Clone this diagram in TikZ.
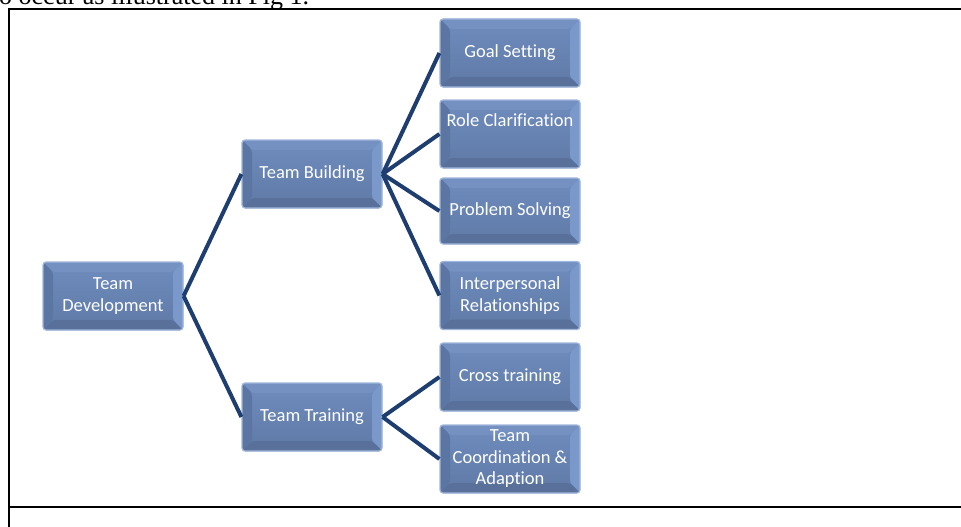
\documentclass[tikz,border=0pt]{standalone}
\usepackage{fontspec}
\newfontfamily\boxfontfam[Ligatures={NoCommon}]{Carlito}
\newfontfamily\topfontfam{Liberation Serif}
\definecolor{boxinnertop}{RGB}{110,140,190}
\definecolor{boxinnerbot}{RGB}{96,122,166}
\definecolor{boxtop}{RGB}{116,145,194}
\definecolor{boxleft}{RGB}{92,118,164}
\definecolor{boxright}{RGB}{122,152,202}
\definecolor{boxbottom}{RGB}{88,112,154}
\definecolor{boxedge}{RGB}{160,182,220}
\definecolor{linkblue}{RGB}{30,62,112}
\tikzset{
  bevelbox/.style={rectangle, rounded corners=3pt, minimum width=140pt, minimum height=68pt,
    inner sep=0pt, fill=boxinnertop, draw=boxedge, line width=1.2pt, text=white,
    font=\boxfontfam\fontsize{18.5}{21.5}\selectfont, align=center,
    path picture={
      \def\bv{10pt}
      \coordinate (NW) at (path picture bounding box.north west);
      \coordinate (NE) at (path picture bounding box.north east);
      \coordinate (SW) at (path picture bounding box.south west);
      \coordinate (SE) at (path picture bounding box.south east);
      \shade[top color=boxinnertop, bottom color=boxinnerbot]
        (NW) rectangle (SE);
      \fill[boxtop] (NW) -- (NE) -- ([xshift=-\bv,yshift=-\bv]NE) -- ([xshift=\bv,yshift=-\bv]NW) -- cycle;
      \fill[boxleft] (NW) -- ([xshift=\bv,yshift=-\bv]NW) -- ([xshift=\bv,yshift=\bv]SW) -- (SW) -- cycle;
      \fill[boxright] (NE) -- (SE) -- ([xshift=-\bv,yshift=\bv]SE) -- ([xshift=-\bv,yshift=-\bv]NE) -- cycle;
      \fill[boxbottom] (SW) -- (SE) -- ([xshift=-\bv,yshift=\bv]SE) -- ([xshift=\bv,yshift=\bv]SW) -- cycle;
    }},
  link/.style={draw=linkblue, line width=4pt}
}
\begin{document}
\begin{tikzpicture}[x=1pt,y=-1pt]
\useasboundingbox (0,0) rectangle (961,527);
% surrounding text and frame
\node[anchor=base west, inner sep=0pt, font=\topfontfam\fontsize{26}{30}\selectfont] (toptext) at (-1,5) {o occur as illustrated in Fig 1.};
\draw[line width=2.2pt] (9,8) -- (9,527);
\draw[line width=2.2pt] (8,9) -- (961,9);
\draw[line width=2.2pt] (8,507) -- (961,507);
% boxes
\node[bevelbox] (dev) at (113,296) {Team\\Development};
\node[bevelbox] (build) at (312,174) {Team Building};
\node[bevelbox] (train) at (312,417) {Team Training};
\node[bevelbox] (goal) at (510,53) {Goal Setting};
\node[bevelbox] (role) at (510,134) {Role Clarification\\\strut};
\node[bevelbox, minimum height=66pt] (prob) at (510,211) {Problem Solving};
\node[bevelbox] (inter) at (510,295.5) {Interpersonal\\Relationships};
\node[bevelbox] (cross) at (510,377) {Cross training};
\node[bevelbox] (coord) at (510,459) {Team\\Coordination \&\\Adaption};
% connectors
\draw[link] (dev.east) -- (build.west);
\draw[link] (dev.east) -- (train.west);
\draw[link] (build.east) -- (goal.west);
\draw[link] (build.east) -- (role.west);
\draw[link] (build.east) -- (prob.west);
\draw[link] (build.east) -- (inter.west);
\draw[link] (train.east) -- (cross.west);
\draw[link] (train.east) -- (coord.west);
\end{tikzpicture}
\end{document}
